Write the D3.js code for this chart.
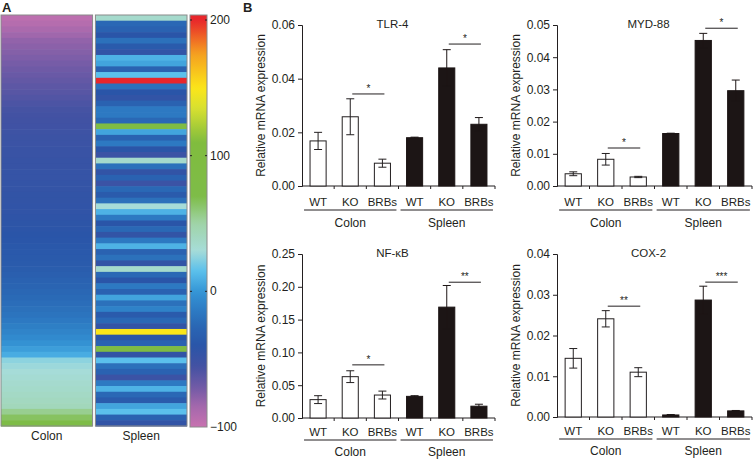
<!DOCTYPE html>
<html><head><meta charset="utf-8">
<script src="https://cdn.jsdelivr.net/npm/d3@7"></script>
<style>body{margin:0;background:#fff}svg{display:block;font-family:"Liberation Sans",Arial,sans-serif}</style>
</head><body>
<svg id="c" width="753" height="460"></svg>
<script>
// ---------- Panel A data ----------
const colonValues = [-95,-92,-88,-84,-80,-78,-76,-74,-72,-70,-68,-66,-64,-62,-60,-58,
 -56,-55,-54,-53,-52,-51,-50,-49,-49,-48,-48,-47,-47,-46,-46,-45,-45,-44,-44,-43,-42,-41,-40,-39,-38,-37,-36,-35,-34,
 -32,-30,-28,-26,-24,-22,-20,-18,-15,-12,-9,-6,-2,3,8,
 25,28,30,32,34,36,38,40,42,55,65,75];
const spleenValues = [35,-25,-30,-40,-20,-35,-45,10,5,-30,15,200,-20,-40,-45,-30,-15,-15,-25,90,5,-30,-15,-40,-50,35,-20,-45,-30,-50,-25,-35,-20,30,10,-15,-40,-25,-45,-15,10,-30,-20,-45,35,-25,-40,-15,-30,5,-20,-10,-35,-25,-45,150,-40,-30,90,-45,15,-20,-30,-50,-15,10,-25,-35,5,15,-30,-45];
const heatColumns = ["Colon","Spleen"];
const colorStops = [-100,-85,-70,-55,-40,-25,-10,0,15,30,50,70,110,135,150,175,200];
const colorRange = ["#c872b0","#a468ac","#6f5aa6","#4352a3","#2a55a8","#2a68b5","#2f82c8","#3596d6","#5bc0ec","#a6dcd8","#a0d4a8","#7ebc48","#80bc3e","#d8e030","#fbe51a","#f5a020","#e8262b"];
const colorbarTicks = [200,100,0,-100];

// ---------- Panel B data ----------
const barLabels = ["WT","KO","BRBs","WT","KO","BRBs"];
const tissues = ["Colon","Spleen"];
const tlr4Mean = [0.0168,0.0258,0.0085,0.0180,0.0440,0.0230];
const tlr4Err  = [0.0032,0.0067,0.0015,0.0002,0.0068,0.0025];
const tlr4Ticks = [0,0.02,0.04,0.06];
const tlr4Sig = [[1,2,0.0343,"*"],[4,5,0.0529,"*"]];
const myd88Mean = [0.0038,0.0083,0.0028,0.0163,0.0452,0.0296];
const myd88Err  = [0.0006,0.0018,0.0002,0.0001,0.0022,0.0033];
const myd88Ticks = [0,0.01,0.02,0.03,0.04,0.05];
const myd88Sig = [[1,2,0.0118,"*"],[4,5,0.0490,"*"]];
const nfkbMean = [0.028,0.063,0.035,0.033,0.169,0.018];
const nfkbErr  = [0.006,0.009,0.006,0.001,0.033,0.003];
const nfkbTicks = [0,0.05,0.10,0.15,0.20,0.25];
const nfkbSig = [[1,2,0.081,"*"],[4,5,0.207,"**"]];
const cox2Mean = [0.0144,0.0241,0.0110,0.0005,0.0287,0.0015];
const cox2Err  = [0.0024,0.0020,0.0011,0.0001,0.0034,0.0001];
const cox2Ticks = [0,0.01,0.02,0.03,0.04];
const cox2Sig = [[1,2,0.0272,"**"],[4,5,0.0331,"***"]];

const svg = d3.select("#c");
const ink = "#231f20";

// ---------- Panel A ----------
const color = d3.scaleLinear().domain(colorStops).range(colorRange).clamp(true);
const hmTop = 15, hmBot = 426;
const colX = d3.scaleBand().domain(heatColumns).range([1,187]).paddingInner(0.03);
[colonValues, spleenValues].forEach((vals,ci)=>{
  const y = d3.scaleBand().domain(d3.range(vals.length)).range([hmTop,hmBot]);
  const g = svg.append("g");
  g.selectAll("rect").data(vals).join("rect")
    .attr("x", colX(heatColumns[ci])).attr("width", colX.bandwidth())
    .attr("y", (d,i)=>y(i)).attr("height", y.bandwidth()+0.6)
    .attr("fill", d=>color(d));
  g.append("rect").attr("x", colX(heatColumns[ci])).attr("width", colX.bandwidth())
    .attr("y", hmTop).attr("height", hmBot-hmTop).attr("fill","none").attr("stroke","#8a8a8a").attr("stroke-width",1);
  svg.append("text").attr("x", colX(heatColumns[ci])+colX.bandwidth()/2).attr("y", 440)
    .attr("text-anchor","middle").attr("font-size",12).attr("fill",ink).text(heatColumns[ci]);
});
// colorbar
const cbY = d3.scaleLinear().domain([-100,200]).range([427,20]);
const cbX0 = 190, cbW = 17;
const grad = svg.append("defs").append("linearGradient").attr("id","cb").attr("x1",0).attr("y1",1).attr("x2",0).attr("y2",0);
const cbMin = cbY.invert(427), cbMax = cbY.invert(15);
d3.range(0,1.0001,0.01).forEach(t=>{
  grad.append("stop").attr("offset",t).attr("stop-color", color(cbMin + t*(cbMax-cbMin)));
});
svg.append("rect").attr("x",cbX0).attr("y",15).attr("width",cbW).attr("height",412)
  .attr("fill","url(#cb)").attr("stroke","#8a8a8a");
colorbarTicks.forEach(v=>{
  const yy = cbY(v);
  if (v>-100){
    svg.append("line").attr("x1",cbX0).attr("x2",cbX0+2).attr("y1",yy).attr("y2",yy).attr("stroke",ink);
    svg.append("line").attr("x1",cbX0+cbW-2).attr("x2",cbX0+cbW).attr("y1",yy).attr("y2",yy).attr("stroke",ink);
  }
  svg.append("text").attr("x",cbX0+cbW+3).attr("y",yy+4).attr("font-size",12).attr("fill",ink)
    .text(v<0 ? "\u2212"+Math.abs(v) : v);
});
svg.append("text").attr("x",2).attr("y",12).attr("font-size",13).attr("font-weight","bold").attr("fill",ink).text("A");
svg.append("text").attr("x",243).attr("y",12).attr("font-size",13).attr("font-weight","bold").attr("fill",ink).text("B");

// ---------- Panel B ----------
const panels = [
  {title:"TLR-4", mean:tlr4Mean, err:tlr4Err, ticks:tlr4Ticks, sig:tlr4Sig, x0:302, x1:495, yT:25, yB:186, off:[20,24,41]},
  {title:"MYD-88", mean:myd88Mean, err:myd88Err, ticks:myd88Ticks, sig:myd88Sig, x0:557, x1:752, yT:25, yB:186, off:[20,24,41]},
  {title:"NF-\u03BAB", mean:nfkbMean, err:nfkbErr, ticks:nfkbTicks, sig:nfkbSig, x0:302, x1:495, yT:254, yB:418, off:[18,22,38]},
  {title:"COX-2", mean:cox2Mean, err:cox2Err, ticks:cox2Ticks, sig:cox2Sig, x0:557, x1:752, yT:254, yB:417, off:[18,22,38]},
];
const fmt = d3.format(".2f");
panels.forEach(p=>{
  const g = svg.append("g");
  const x = d3.scaleBand().domain(d3.range(6)).range([p.x0,p.x1]).paddingInner(0.5).paddingOuter(0.25);
  const y = d3.scaleLinear().domain([0, d3.max(p.ticks)]).range([p.yB,p.yT]);
  // y axis
  const ya = g.append("g").attr("transform",`translate(${p.x0},0)`)
    .call(d3.axisLeft(y).tickValues(p.ticks).tickFormat(fmt).tickSize(4).tickPadding(3));
  ya.selectAll("path,line").attr("stroke",ink);
  ya.selectAll("text").attr("font-size",12).attr("fill",ink).attr("font-family",null);
  // x axis line + ticks at band boundaries
  g.append("line").attr("x1",p.x0).attr("x2",p.x1).attr("y1",p.yB).attr("y2",p.yB).attr("stroke",ink);
  d3.range(1,7).forEach(i=>{
    const xx = p.x0 + i*(p.x1-p.x0)/6;
    g.append("line").attr("x1",xx).attr("x2",xx).attr("y1",p.yB).attr("y2",p.yB+3).attr("stroke",ink);
  });
  // bars
  g.selectAll("rect.bar").data(p.mean).join("rect").attr("class","bar")
    .attr("x",(d,i)=>x(i)).attr("width",x.bandwidth())
    .attr("y",d=>y(d)).attr("height",d=>p.yB-y(d))
    .attr("fill",(d,i)=> i<3 ? "#fff" : "#1c1515")
    .attr("stroke",(d,i)=> i<3 ? ink : "#1c1515").attr("stroke-width",1);
  // error bars
  p.mean.forEach((m,i)=>{
    const cx = x(i)+x.bandwidth()/2, e = p.err[i];
    const c = i<3 ? ink : "#1c1515";
    g.append("line").attr("x1",cx).attr("x2",cx).attr("y1",y(m-e)).attr("y2",y(m+e)).attr("stroke",c);
    g.append("line").attr("x1",cx-4).attr("x2",cx+4).attr("y1",y(m+e)).attr("y2",y(m+e)).attr("stroke",c);
    g.append("line").attr("x1",cx-4).attr("x2",cx+4).attr("y1",y(m-e)).attr("y2",y(m-e)).attr("stroke",c);
    g.append("text").attr("x",cx).attr("y",p.yB+p.off[0]).attr("text-anchor","middle")
      .attr("font-size",11.5).attr("fill",ink).text(barLabels[i]);
  });
  // group lines + labels
  tissues.forEach((t,k)=>{
    const a = x(3*k) - 6, b = x(3*k+2)+x.bandwidth()+6;
    g.append("line").attr("x1",a).attr("x2",b).attr("y1",p.yB+p.off[1]).attr("y2",p.yB+p.off[1]).attr("stroke",ink);
    g.append("text").attr("x",(a+b)/2).attr("y",p.yB+p.off[2]).attr("text-anchor","middle")
      .attr("font-size",12).attr("fill",ink).text(t);
  });
  // significance
  p.sig.forEach(([a,b,v,lab])=>{
    const xa = x(a)+x.bandwidth()/2+2, xb = x(b)+x.bandwidth()/2+2;
    g.append("line").attr("x1",xa).attr("x2",xb).attr("y1",y(v)).attr("y2",y(v)).attr("stroke",ink);
    g.append("text").attr("x",(xa+xb)/2).attr("y",y(v)-2).attr("text-anchor","middle")
      .attr("font-size",10).attr("fill",ink).text(lab);
  });
  // title
  g.append("text").attr("x",(p.x0+p.x1)/2 - 6).attr("y",p.yT+3).attr("text-anchor","middle")
    .attr("font-size",11.5).attr("fill",ink).text(p.title);
  // y label
  g.append("text").attr("transform",`translate(${p.x0-37},${(p.yT+p.yB)/2}) rotate(-90)`)
    .attr("text-anchor","middle").attr("font-size",12).attr("fill",ink).text("Relative mRNA expression");
});
</script>
</body></html>
